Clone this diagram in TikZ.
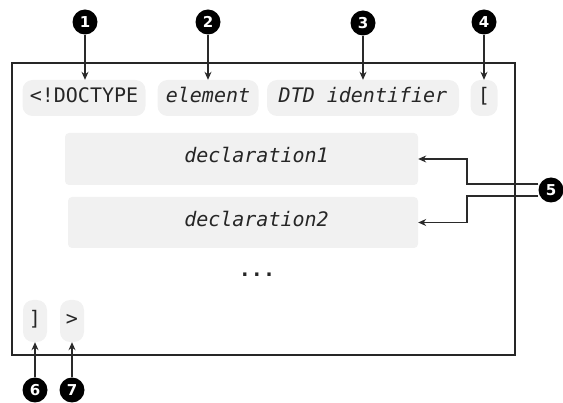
\documentclass[tikz,border=0pt]{standalone}
\usepackage{fontspec}
\setmonofont{DejaVu Sans Mono}
\newfontfamily\numfont{DejaVu Sans}
\usetikzlibrary{arrows.meta}
\definecolor{pillgray}{HTML}{F1F1F1}
\definecolor{codegray}{HTML}{262626}
\definecolor{linegray}{HTML}{2A2A2A}
\begin{document}
\begin{tikzpicture}[x=1pt,y=-1pt,
  codefont/.style={font=\ttfamily\fontsize{20}{24}\selectfont},
  pill/.style={fill=pillgray, rounded corners=10pt, inner sep=0pt,
    text=codegray, text height=14pt, text depth=4pt, minimum height=36pt, codefont},
  box/.style={fill=pillgray, inner sep=0pt, rounded corners=4pt},
  codetext/.style={inner sep=0pt, text=codegray, text height=14pt, text depth=4pt, codefont},
  callout/.style={circle, fill=black, inner sep=0pt, minimum size=25pt,
    text=white, font=\numfont\bfseries\fontsize{15}{15}\selectfont},
  callarrow/.style={draw=linegray, line width=1.1pt,
    -{Stealth[length=8pt,width=7pt]}}
]
\useasboundingbox (0,0) rectangle (563,403);

% outer frame of the declaration
\draw[line width=2pt, draw=black!85] (12,63) rectangle (515,355);

% first line: keyword, root element, identifier, opening bracket
\node[pill, minimum width=123pt] (p1) at (84,98) {<!DOCTYPE};
\node[pill, minimum width=101pt] (p2) at (208,98) {\itshape element};
\node[pill, minimum width=192pt] (p3) at (363,98) {\itshape DTD identifier};
\node[pill, minimum width=27pt] (p4) at (484,98) {[};

% internal subset declarations
\node[box, minimum width=353pt, minimum height=52pt] (d1) at (241.5,159) {};
\node[box, minimum width=350pt, minimum height=51pt] (d2) at (243,222.5) {};
\node[codetext] (t1) at (256.5,158) {\itshape declaration1};
\node[codetext] (t2) at (256.5,222) {\itshape declaration2};
\node[codetext] (dots) at (257,272) {\bfseries ...};

% closing bracket and angle bracket
\node[pill, minimum width=24pt, minimum height=42pt] (p6) at (35,321) {]};
\node[pill, minimum width=24pt, minimum height=42pt] (p7) at (72,321) {>};

% numbered callouts
\node[callout] (c1) at (85,22) {1};
\node[callout] (c2) at (208,22) {2};
\node[callout] (c3) at (363,23) {3};
\node[callout] (c4) at (484,22) {4};
\node[callout] (c5) at (551,190) {5};
\node[callout] (c6) at (35,390) {6};
\node[callout] (c7) at (72,390) {7};

% callout leaders
\draw[callarrow] (c1) -- (c1 |- p1.north);
\draw[callarrow] (c2) -- (p2.north);
\draw[callarrow] (c3) -- (p3.north);
\draw[callarrow] (c4) -- (p4.north);
\draw[callarrow] (c6) -- (p6.south);
\draw[callarrow] (c7) -- (p7.south);

\coordinate (k) at (467,190);
\draw[callarrow] ([yshift=6pt]c5.west) -| (k |- d1.east) -- (d1.east);
\draw[callarrow] ([yshift=-6pt]c5.west) -| (k |- d2.east) -- (d2.east);
\end{tikzpicture}
\end{document}
